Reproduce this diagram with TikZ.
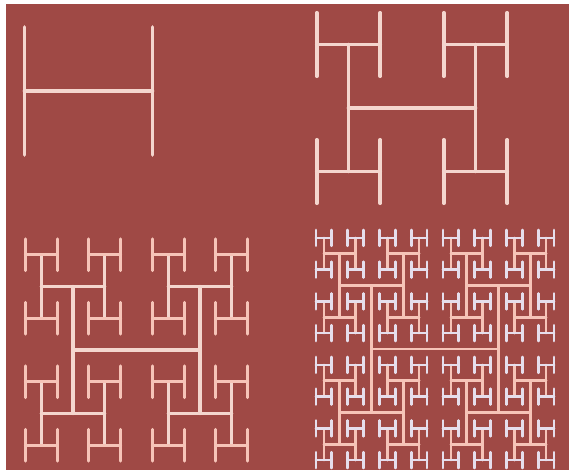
\documentclass[tikz,border=0pt]{standalone}
\definecolor{bgred}{HTML}{9F4945}
\definecolor{paleA}{HTML}{F4D6CE}
\definecolor{pinkB}{HTML}{F6C4B8}
\definecolor{lavC}{HTML}{E6DEEC}
\newcommand\hbranch[4]{%
  \ifnum#4=1 \def\hcol{leafc}\else\def\hcol{stemc}\fi
  \draw[\hcol] ({(#1)-(#3)/2},{(#2)-(#3)/2}) -- ({(#1)-(#3)/2},{(#2)+(#3)/2})
     ({(#1)-(#3)/2},{#2}) -- ({(#1)+(#3)/2},{#2})
     ({(#1)+(#3)/2},{(#2)-(#3)/2}) -- ({(#1)+(#3)/2},{(#2)+(#3)/2});
  \ifnum#4>1
    \hbranch{(#1)-(#3)/2}{(#2)-(#3)/2}{(#3)/2}{\numexpr#4-1\relax}%
    \hbranch{(#1)+(#3)/2}{(#2)-(#3)/2}{(#3)/2}{\numexpr#4-1\relax}%
    \hbranch{(#1)-(#3)/2}{(#2)+(#3)/2}{(#3)/2}{\numexpr#4-1\relax}%
    \hbranch{(#1)+(#3)/2}{(#2)+(#3)/2}{(#3)/2}{\numexpr#4-1\relax}%
  \fi}
\begin{document}
\begin{tikzpicture}[x=1pt,y=-1pt,line cap=round]
\useasboundingbox (0,0) rectangle (569,472);
\fill[white] (0,0) rectangle (569,472);
\fill[bgred] (6,4) rectangle (569,470);
\begin{scope}[line width=3.6pt,
  stemc/.style={draw=paleA}, leafc/.style={draw=paleA}]
  \hbranch{88.5}{91}{128}{1}
  \hbranch{412}{108}{127}{2}
\end{scope}
\begin{scope}[line width=3.2pt,
  stemc/.style={draw=paleA}, leafc/.style={draw=pinkB}]
  \hbranch{136.5}{350}{127}{3}
\end{scope}
\begin{scope}[line width=2.7pt,
  stemc/.style={draw=pinkB}, leafc/.style={draw=lavC}]
  \hbranch{435}{349}{127}{4}
\end{scope}
\end{tikzpicture}
\end{document}
